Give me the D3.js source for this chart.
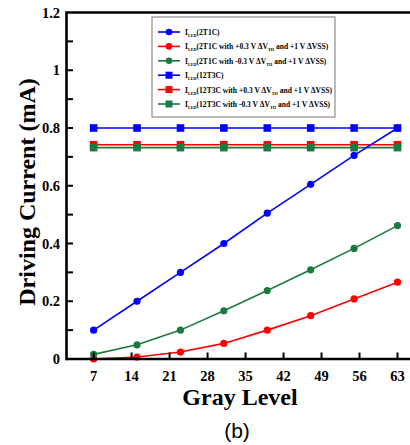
<!DOCTYPE html>
<html><head><meta charset="utf-8">
<script src="https://cdn.jsdelivr.net/npm/d3@7"></script>
<style>html,body{margin:0;padding:0;background:#fff;overflow:hidden}</style>
</head><body>
<script>
const grayLevels = [7, 15, 23, 31, 39, 47, 55, 63];
const i2T1C      = [0.1, 0.2, 0.3, 0.4, 0.505, 0.605, 0.705, 0.8];
const i2T1CPlus  = [0.0, 0.007, 0.024, 0.054, 0.1, 0.15, 0.208, 0.266];
const i2T1CMinus = [0.016, 0.049, 0.1, 0.167, 0.237, 0.309, 0.383, 0.462];
const i12T3C      = [0.8, 0.8, 0.8, 0.8, 0.8, 0.8, 0.8, 0.8];
const i12T3CPlus  = [0.742, 0.742, 0.742, 0.742, 0.742, 0.742, 0.742, 0.742];
const i12T3CMinus = [0.732, 0.732, 0.732, 0.732, 0.732, 0.732, 0.732, 0.732];
const xTicks = [7, 14, 21, 28, 35, 42, 49, 56, 63];
const yMajor = [0, 0.2, 0.4, 0.6, 0.8, 1.0, 1.2];
const yMinor = [0.1, 0.3, 0.5, 0.7, 0.9, 1.1];
const legendNames = ["2T1C", "2T1C with +0.3 V \u0394V", "2T1C with -0.3 V \u0394V", "12T3C", "12T3C with +0.3 V \u0394V", "12T3C with -0.3 V \u0394V"];

const BLUE = "#0000ff", RED = "#ff0000", GREEN = "#1b7a3e";
const series = [
  {name: legendNames[0], vals: i2T1C, color: BLUE, shape: "circle", th: false},
  {name: legendNames[1], vals: i2T1CPlus, color: RED, shape: "circle", th: true},
  {name: legendNames[2], vals: i2T1CMinus, color: GREEN, shape: "circle", th: true},
  {name: legendNames[3], vals: i12T3C, color: BLUE, shape: "square", th: false},
  {name: legendNames[4], vals: i12T3CPlus, color: RED, shape: "square", th: true},
  {name: legendNames[5], vals: i12T3CMinus, color: GREEN, shape: "square", th: true}
];

const W = 410, H = 445;
const svg = d3.select("body").append("svg").attr("width", W).attr("height", H);
const x = d3.scaleLinear().domain([2, 63]).range([66.5, 397.5]);
const y = d3.scaleLinear().domain([0, 1.2]).range([359, 12.5]);
const serif = "'Liberation Serif','Times New Roman',serif";

// data lines (12T3C first so 2T1C sits on top)
const drawOrder = [3, 4, 5, 0, 1, 2];
const line = d3.line().x((d, i) => x(grayLevels[i])).y(d => y(d));
drawOrder.forEach(k => {
  const s = series[k];
  const g = svg.append("g");
  g.append("path").attr("d", line(s.vals)).attr("fill", "none").attr("stroke", s.color).attr("stroke-width", 1.6);
  s.vals.forEach((v, i) => {
    if (s.shape === "circle") {
      g.append("circle").attr("cx", x(grayLevels[i])).attr("cy", y(v)).attr("r", 3.6).attr("fill", s.color);
    } else {
      g.append("rect").attr("x", x(grayLevels[i]) - 3.8).attr("y", y(v) - 3.8).attr("width", 7.6).attr("height", 7.6).attr("fill", s.color);
    }
  });
});

// axes
const ax = svg.append("g");
ax.append("line").attr("x1", 66.5).attr("x2", W + 5).attr("y1", y(1.2)).attr("y2", y(1.2)).attr("stroke", "#000").attr("stroke-width", 2.6);
ax.append("line").attr("x1", 66.5).attr("x2", W + 5).attr("y1", y(0)).attr("y2", y(0)).attr("stroke", "#000").attr("stroke-width", 2.6);
ax.append("line").attr("x1", 66.5).attr("x2", 66.5).attr("y1", y(1.2) - 1.3).attr("y2", y(0) + 1.3).attr("stroke", "#000").attr("stroke-width", 2.6);

yMajor.concat(yMinor).forEach(v => {
  if (v === 0 || v === 1.2) return;
  ax.append("line").attr("x1", 66.5).attr("x2", 73).attr("y1", y(v)).attr("y2", y(v)).attr("stroke", "#000").attr("stroke-width", 2);
});
yMajor.forEach(v => {
  ax.append("text").attr("x", 60).attr("y", y(v) + 5).attr("text-anchor", "end")
    .attr("font-family", serif).attr("font-weight", "bold").attr("font-size", 14.5).text(d3.format("~g")(v));
});
xTicks.forEach(v => {
  ax.append("line").attr("x1", x(v)).attr("x2", x(v)).attr("y1", y(0)).attr("y2", y(0) - 6.5).attr("stroke", "#000").attr("stroke-width", 2);
  ax.append("text").attr("x", x(v)).attr("y", 380.5).attr("text-anchor", "middle")
    .attr("font-family", serif).attr("font-weight", "bold").attr("font-size", 14.5).text(v);
});

// titles
svg.append("text").attr("transform", "translate(35,192) rotate(-90)").attr("text-anchor", "middle")
  .attr("font-family", serif).attr("font-weight", "bold").attr("font-size", 24).text("Driving Current (mA)");
svg.append("text").attr("x", 240).attr("y", 405).attr("text-anchor", "middle")
  .attr("font-family", serif).attr("font-weight", "bold").attr("font-size", 24).text("Gray Level");
svg.append("text").attr("x", 237).attr("y", 438).attr("text-anchor", "middle")
  .attr("font-family", "'Liberation Sans',Arial,sans-serif").attr("font-size", 21).text("(b)");

// legend
const lg = svg.append("g");
lg.append("rect").attr("x", 152).attr("y", 17).attr("width", 183).attr("height", 100)
  .attr("fill", "#fff").attr("stroke", "#777").attr("stroke-width", 1);
series.forEach((s, i) => {
  const ly = 32 + i * 14.4;
  lg.append("line").attr("x1", 158).attr("x2", 180).attr("y1", ly).attr("y2", ly).attr("stroke", s.color).attr("stroke-width", 1.6);
  if (s.shape === "circle") lg.append("circle").attr("cx", 169).attr("cy", ly).attr("r", 3.3).attr("fill", s.color);
  else lg.append("rect").attr("x", 165.5).attr("y", ly - 3.5).attr("width", 7).attr("height", 7).attr("fill", s.color);
  const t = lg.append("text").attr("transform", `translate(185,${ly + 3}) scale(0.84,1)`)
    .attr("font-family", serif).attr("font-weight", "bold").attr("font-size", 9);
  t.append("tspan").text("I");
  t.append("tspan").attr("font-size", 5).attr("dy", 2).text("LED");
  t.append("tspan").attr("dy", -2).text("(" + s.name);
  if (s.th) {
    t.append("tspan").attr("font-size", 5).attr("dy", 2).text("TH");
    t.append("tspan").attr("dy", -2).text(" and +1 V \u0394VSS)");
  } else {
    t.append("tspan").text(")");
  }
});
</script>
</body></html>
